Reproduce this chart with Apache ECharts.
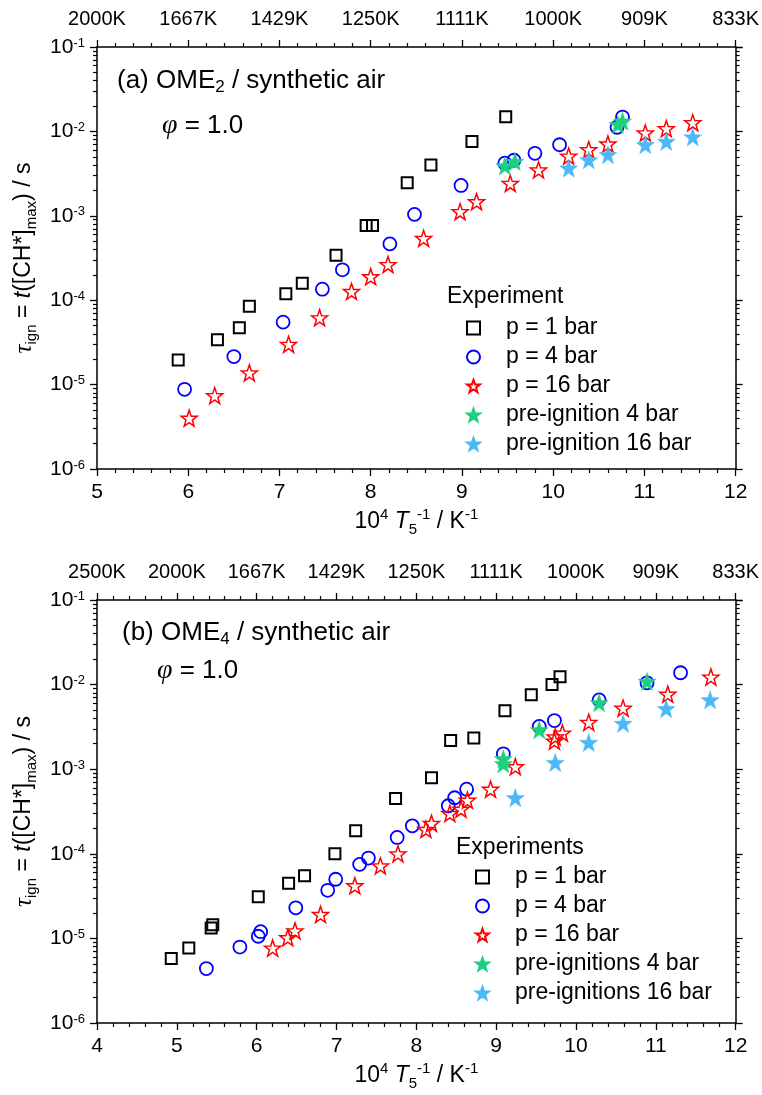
<!DOCTYPE html>
<html>
<head>
<meta charset="utf-8">
<script src="https://cdn.jsdelivr.net/npm/echarts@6/dist/echarts.min.js"></script>
<style>
  html, body { margin: 0; padding: 0; background: #fff; }
  #chart { width: 762px; height: 1095px; }
</style>
</head>
<body>
<div id="chart"></div>
<script>
// ---- data: [10^4/T, tau_ign (s)] ----
// (a) OME2
const ome2P1 = [[5.89, 1.96e-5], [6.32, 3.4e-5], [6.56, 4.7e-5], [6.67, 8.5e-5], [7.07, 1.19e-4], [7.25, 1.59e-4],
  [7.62, 3.4e-4], [7.95, 7.7e-4], [8.02, 7.7e-4], [8.40, 2.46e-3], [8.66, 4.0e-3], [9.11, 7.6e-3], [9.48, 1.49e-2]]
const ome2P4 = [[5.96, 8.8e-6], [6.50, 2.15e-5], [7.04, 5.5e-5], [7.47, 1.35e-4], [7.69, 2.29e-4], [8.21, 4.65e-4],
  [8.48, 1.04e-3], [8.99, 2.29e-3], [9.47, 4.2e-3], [9.57, 4.55e-3], [9.80, 5.5e-3], [10.07, 6.95e-3],
  [10.70, 1.12e-2], [10.76, 1.48e-2]]
const ome2P16 = [[6.01, 4.0e-6], [6.29, 7.4e-6], [6.67, 1.38e-5], [7.10, 3.0e-5], [7.44, 6.2e-5], [7.79, 1.27e-4],
  [8.00, 1.9e-4], [8.19, 2.65e-4], [8.58, 5.4e-4], [8.98, 1.12e-3], [9.16, 1.47e-3], [9.53, 2.42e-3],
  [9.84, 3.5e-3], [10.17, 5.1e-3], [10.39, 6.1e-3], [10.60, 7.1e-3], [11.01, 9.6e-3], [11.24, 1.08e-2], [11.53, 1.27e-2]]
const ome2Pre4 = [[9.47, 3.9e-3], [9.58, 4.4e-3], [10.71, 1.21e-2], [10.76, 1.32e-2]]
const ome2Pre16 = [[10.17, 3.67e-3], [10.39, 4.6e-3], [10.60, 5.3e-3], [11.01, 6.95e-3], [11.24, 7.6e-3], [11.53, 8.6e-3]]

// (b) OME4
const ome4P1 = [[4.93, 5.8e-6], [5.15, 7.7e-6], [5.43, 1.33e-5], [5.45, 1.45e-5], [6.02, 3.1e-5], [6.40, 4.5e-5],
  [6.60, 5.5e-5], [6.98, 1.0e-4], [7.24, 1.87e-4], [7.74, 4.5e-4], [8.19, 7.9e-4], [8.43, 2.19e-3],
  [8.72, 2.34e-3], [9.11, 4.9e-3], [9.44, 7.6e-3], [9.70, 1.0e-2], [9.80, 1.24e-2]]
const ome4P4 = [[5.37, 4.4e-6], [5.79, 7.9e-6], [6.02, 1.06e-5], [6.05, 1.2e-5], [6.49, 2.3e-5], [6.89, 3.7e-5],
  [6.99, 5.0e-5], [7.29, 7.5e-5], [7.40, 8.9e-5], [7.76, 1.56e-4], [7.95, 2.14e-4], [8.40, 3.7e-4],
  [8.48, 4.6e-4], [8.63, 5.8e-4], [9.09, 1.52e-3], [9.54, 3.2e-3], [9.73, 3.76e-3], [10.29, 6.6e-3],
  [10.89, 1.05e-2], [11.31, 1.38e-2]]
const ome4P16 = [[6.20, 7.7e-6], [6.39, 1.02e-5], [6.48, 1.23e-5], [6.80, 1.92e-5], [7.23, 4.2e-5], [7.55, 7.2e-5],
  [7.77, 1.0e-4], [8.12, 1.94e-4], [8.19, 2.29e-4], [8.42, 3.0e-4], [8.56, 3.37e-4], [8.64, 4.3e-4],
  [8.93, 5.8e-4], [9.24, 1.07e-3], [9.73, 2.15e-3], [9.74, 2.41e-3], [9.83, 2.68e-3], [10.16, 3.58e-3],
  [10.59, 5.27e-3], [11.15, 7.7e-3], [11.69, 1.23e-2]]
const ome4Pre4 = [[9.09, 1.33e-3], [9.09, 1.16e-3], [9.54, 2.92e-3], [10.29, 6.1e-3], [10.89, 1.09e-2]]
const ome4Pre16 = [[9.24, 4.6e-4], [9.74, 1.2e-3], [10.16, 2.07e-3], [10.59, 3.48e-3], [11.13, 5.2e-3], [11.68, 6.6e-3]]

const SANS = 'Liberation Sans, Arial, sans-serif'
const SERIF = 'Liberation Serif, Times New Roman, serif'
const STAR = 'path://M0,-10L2.35,-3.24L9.51,-3.09L3.8,1.24L5.88,8.09L0,4L-5.88,8.09L-3.8,1.24L-9.51,-3.09L-2.35,-3.24Z'
const GREEN = '#1fcf80'
const SKY = '#4db8f8'

const grids = [
  { left: 97, right: 24, top: 47, height: 422 },
  { left: 97, right: 24, top: 600, height: 423 }
]

const supRich = {
  n: { fontSize: 21, fontFamily: SANS, color: '#000' },
  s: { fontSize: 13, fontFamily: SANS, color: '#000', verticalAlign: 'top', lineHeight: 13 }
}
const nameRich = {
  n: { fontSize: 23, fontFamily: SANS, color: '#000', lineHeight: 30 },
  it: { fontSize: 23, fontFamily: SANS, fontStyle: 'italic', color: '#000', lineHeight: 30 },
  gr: { fontSize: 25, fontFamily: SERIF, fontStyle: 'italic', color: '#000', lineHeight: 30 },
  sup: { fontSize: 15, fontFamily: SANS, color: '#000', verticalAlign: 'top', lineHeight: 15 },
  sub: { fontSize: 15, fontFamily: SANS, color: '#000', verticalAlign: 'bottom', lineHeight: 15 }
}

const axisLine = { lineStyle: { color: '#000', width: 1.5 } }

function minorLogTicks () {
  const out = []
  for (let e = -6; e < -1; e++) {
    for (let k = 2; k <= 9; k++) out.push(e + Math.log10(k))
  }
  return out
}

const xAxis = []
const yAxis = []
grids.forEach((g, i) => {
  const xmin = i === 0 ? 5 : 4
  xAxis.push({
    type: 'value', gridIndex: i, position: 'bottom', min: xmin, max: 12, interval: 1,
    axisLine: axisLine,
    axisTick: { length: 7, lineStyle: { width: 1.3, color: '#000' } },
    minorTick: { show: true, splitNumber: 5, length: 4, lineStyle: { width: 1.2, color: '#000' } },
    splitLine: { show: false },
    axisLabel: { fontSize: 21, fontFamily: SANS, color: '#000', margin: 13 },
    name: '{n|10}{sup|4}{n| }{it|T}{sub|5}{sup|-1}{n| / K}{sup|-1}',
    nameLocation: 'middle', nameGap: 38,
    nameTextStyle: { rich: nameRich }
  })
  xAxis.push({
    type: 'value', gridIndex: i, position: 'top', min: xmin, max: 12, interval: 1,
    axisLine: axisLine,
    axisTick: { length: 7, lineStyle: { width: 1.3, color: '#000' } },
    minorTick: { show: true, splitNumber: 5, length: 4, lineStyle: { width: 1.2, color: '#000' } },
    splitLine: { show: false },
    axisLabel: {
      fontSize: 20, fontFamily: SANS, color: '#000', margin: 18,
      formatter: v => Math.round(10000 / v) + 'K'
    }
  })
  yAxis.push({
    type: 'log', logBase: 10, gridIndex: i, position: 'left', min: 1e-6, max: 1e-1,
    axisLine: axisLine,
    axisTick: { length: 7, lineStyle: { width: 1.3, color: '#000' } },
    splitLine: { show: false },
    axisLabel: {
      margin: 12,
      formatter: v => '{n|10}{s|' + Math.round(Math.log10(v)) + '}',
      rich: supRich
    },
    name: '{gr|τ}{sub|ign}{n| = }{it|t}{n|([CH*]}{sub|max}{n|) / s}',
    nameLocation: 'middle', nameRotate: 90, nameGap: 58,
    nameTextStyle: { rich: nameRich }
  })
  yAxis.push({
    type: 'log', logBase: 10, gridIndex: i, position: 'right', min: 1e-6, max: 1e-1,
    axisLine: axisLine,
    axisTick: { length: 7, lineStyle: { width: 1.3, color: '#000' } },
    splitLine: { show: false },
    axisLabel: { show: false }
  })
  ;['left', 'right'].forEach(pos => {
    yAxis.push({
      type: 'value', gridIndex: i, position: pos, min: -6, max: -1,
      axisLine: { show: false },
      axisTick: { length: 4, customValues: minorLogTicks(), lineStyle: { width: 1.2, color: '#000' } },
      splitLine: { show: false },
      axisLabel: { show: false }
    })
  })
})

function scatter (name, data, panel, symbol, size, fill, stroke, bw) {
  return {
    name: name,
    type: 'scatter',
    xAxisIndex: panel * 2,
    yAxisIndex: panel * 4,
    data: data,
    symbol: symbol,
    symbolSize: size,
    itemStyle: { color: fill, borderColor: stroke, borderWidth: bw, opacity: 1 },
    emphasis: { disabled: true }
  }
}

const namesA = ['p = 1 bar', 'p = 4 bar', 'p = 16 bar', 'pre-ignition 4 bar', 'pre-ignition 16 bar']
const namesB = ['p = 1 bar', 'p = 4 bar', 'p = 16 bar', 'pre-ignitions 4 bar', 'pre-ignitions 16 bar']

const series = [
  scatter(namesA[0], ome2P1, 0, 'rect', 11, 'transparent', '#000', 2),
  scatter(namesA[1], ome2P4, 0, 'circle', 13, 'transparent', '#0000ff', 1.8),
  scatter(namesA[2], ome2P16, 0, STAR, 16, 'transparent', '#ff0000', 1.5),
  scatter(namesA[3], ome2Pre4, 0, STAR, 18, GREEN, GREEN, 0.5),
  scatter(namesA[4], ome2Pre16, 0, STAR, 18, SKY, SKY, 0.5),
  scatter(namesB[0], ome4P1, 1, 'rect', 11, 'transparent', '#000', 2),
  scatter(namesB[1], ome4P4, 1, 'circle', 13, 'transparent', '#0000ff', 1.8),
  scatter(namesB[2], ome4P16, 1, STAR, 16, 'transparent', '#ff0000', 1.5),
  scatter(namesB[3], ome4Pre4, 1, STAR, 18, GREEN, GREEN, 0.5),
  scatter(namesB[4], ome4Pre16, 1, STAR, 18, SKY, SKY, 0.5)
]

function legend (names, left, top) {
  return {
    data: names,
    orient: 'vertical',
    left: left,
    top: top,
    padding: 0,
    itemWidth: 13,
    itemHeight: 13,
    itemGap: 5,
    selectedMode: false,
    textStyle: { fontSize: 23, fontFamily: SANS, color: '#000', lineHeight: 24, padding: [0, 0, 0, 21] }
  }
}

const titleRich = {
  n: { fontSize: 26, fontFamily: SANS, color: '#000', lineHeight: 30 },
  sub: { fontSize: 17, fontFamily: SANS, color: '#000', verticalAlign: 'bottom', lineHeight: 17 },
  phi: { fontSize: 28, fontFamily: SERIF, fontStyle: 'italic', color: '#000', lineHeight: 30 }
}

function label (text, x, y, rich) {
  return { type: 'text', left: x, top: y, style: { text: text, rich: rich, fill: '#000' } }
}

const graphic = [
  label('{n|(a) OME}{sub|2}{n| / synthetic air}', 117, 68, titleRich),
  label('{phi|φ}{n| = 1.0}', 162, 112, titleRich),
  label('{n|(b) OME}{sub|4}{n| / synthetic air}', 122, 620, titleRich),
  label('{phi|φ}{n| = 1.0}', 157, 657, titleRich),
  { type: 'text', left: 447, top: 285, style: { text: 'Experiment', font: '23px ' + SANS, fill: '#000' } },
  { type: 'text', left: 456, top: 836, style: { text: 'Experiments', font: '23px ' + SANS, fill: '#000' } }
]

const chart = echarts.init(document.getElementById('chart'), null, { renderer: 'canvas' })
chart.setOption({
  animation: false,
  backgroundColor: '#fff',
  grid: grids,
  xAxis: xAxis,
  yAxis: yAxis,
  legend: [legend(namesA, 466, 316), legend(namesB, 475, 865)],
  graphic: graphic,
  series: series
})
</script>
</body>
</html>
